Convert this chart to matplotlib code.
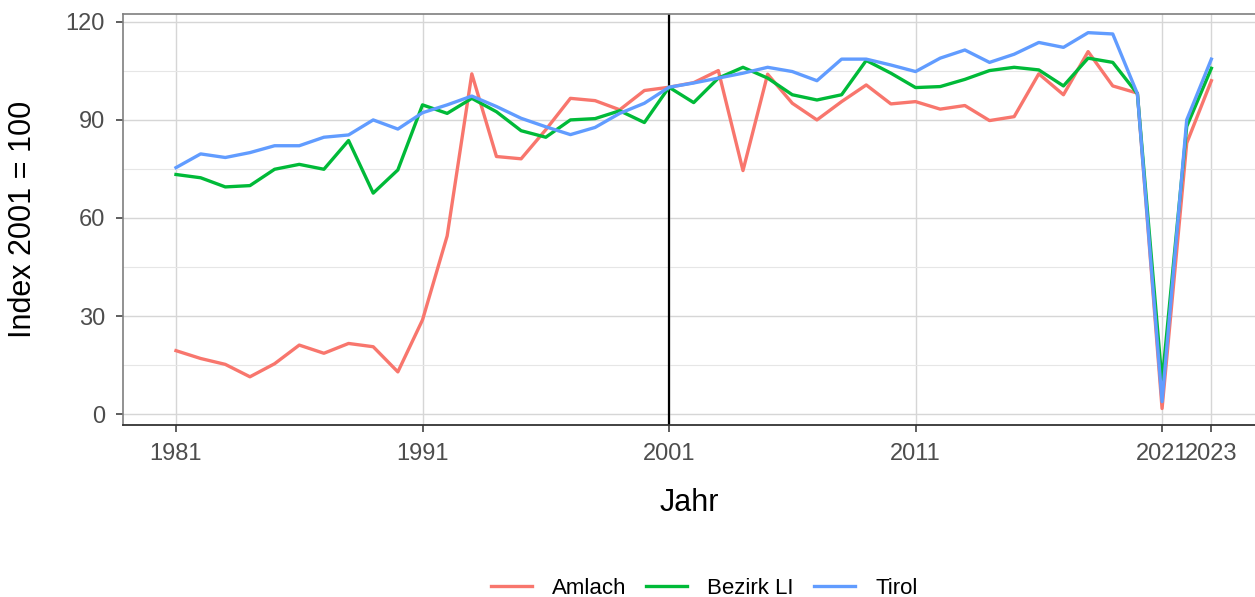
import matplotlib
matplotlib.use("Agg")
import matplotlib.pyplot as plt
from matplotlib.ticker import MultipleLocator

years = list(range(1981, 2024))
amlach = [19.4, 17.0, 15.2, 11.4, 15.4, 21.1, 18.6, 21.6, 20.6, 12.9,
          28.8, 54.5, 104.1, 78.8, 78.1, 87.0, 96.6, 95.9, 93.1, 99.0,
          100.0, 101.4, 105.1, 74.5, 104.0, 95.1, 90.0, 95.6, 100.7, 94.9,
          95.6, 93.3, 94.4, 89.8, 91.0, 104.1, 97.7, 110.9, 100.4, 98.2,
          1.7, 82.9, 102.0]
bezirk = [73.3, 72.3, 69.5, 69.9, 74.9, 76.4, 74.9, 83.7, 67.6, 74.7,
          94.6, 92.0, 96.6, 92.5, 86.7, 84.7, 90.0, 90.4, 92.8, 89.2,
          100.0, 95.3, 102.8, 106.1, 102.8, 97.7, 96.1, 97.7, 108.2, 104.3,
          99.9, 100.2, 102.4, 105.1, 106.1, 105.3, 100.4, 108.9, 107.6, 98.0,
          9.8, 88.0, 105.8]
tirol = [75.4, 79.6, 78.5, 80.0, 82.1, 82.1, 84.7, 85.4, 90.0, 87.2,
         92.2, 94.6, 97.3, 94.1, 90.5, 87.9, 85.5, 87.7, 92.0, 95.1,
         100.0, 101.3, 102.8, 104.3, 106.1, 104.8, 102.0, 108.6, 108.6, 106.8,
         104.8, 108.9, 111.4, 107.6, 110.1, 113.7, 112.2, 116.7, 116.3, 98.0,
         3.8, 90.0, 108.6]
series_names = ["Amlach", "Bezirk LI", "Tirol"]
colors = ["#F8766D", "#00BA38", "#619CFF"]
x_ticks = [1981, 1991, 2001, 2011, 2021, 2023]
y_ticks = [0, 30, 60, 90, 120]
ref_year = 2001

plt.rcParams['font.family'] = ['Liberation Sans', 'DejaVu Sans']

fig = plt.figure(figsize=(12.55, 5.97), dpi=100)
ax = fig.add_axes([0.098, 0.288, 0.902, 0.6885])

ax.set_xlim(1978.85, 2024.77)
ax.set_ylim(-3.37, 122.4)

ax.set_xticks(x_ticks)
ax.set_yticks(y_ticks)
ax.yaxis.set_minor_locator(MultipleLocator(15))
ax.grid(which='major', color='#d6d6d6', lw=1.0)
ax.grid(which='minor', axis='y', color='#e6e6e6', lw=0.8)
ax.tick_params(which='minor', length=0)
ax.set_axisbelow(True)

for s in ax.spines.values():
    s.set_color('#7f7f7f')
    s.set_linewidth(1.2)
ax.spines['right'].set_visible(False)
ax.spines['bottom'].set_color('#333333')
ax.spines['bottom'].set_linewidth(1.3)

ax.tick_params(axis='both', which='major', labelsize=17, labelcolor='#4d4d4d',
               color='#333333', length=5, width=1.1, direction='out')
ax.tick_params(axis='x', pad=8)
ax.tick_params(axis='y', pad=8)

ax.axvline(ref_year, color='black', lw=1.6, zorder=2)

for vals, name, c in zip([amlach, bezirk, tirol], series_names, colors):
    ax.plot(years, vals, color=c, lw=2.4, label=name, zorder=3)

ax.set_xlabel("Jahr", fontsize=22)
ax.set_ylabel("Index 2001 = 100", fontsize=22)
ax.xaxis.set_label_coords(0.5, -0.153)
ax.yaxis.set_label_coords(-0.075, 0.5)

leg = fig.legend(loc='center', bbox_to_anchor=(0.561, 0.015), ncol=3, frameon=False,
                 fontsize=16, handlelength=1.85, columnspacing=0.9, handletextpad=0.9,
                 borderaxespad=0)

fig.savefig("out.png", dpi=100)
